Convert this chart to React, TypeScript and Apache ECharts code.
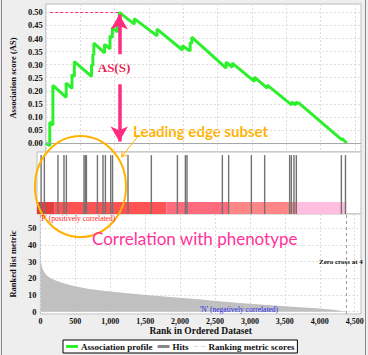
import React, { useEffect, useRef } from "react";
import * as echarts from "echarts";

// ---- data ----
const profileRanks = [0, 58, 58, 104, 104, 297, 297, 382, 382, 416, 416, 666, 666, 686, 686, 700, 700, 856, 856, 935, 935, 969, 969, 1044, 1044, 1070, 1070, 1289, 1289, 1620, 1620, 1989, 1989, 2102, 2102, 2125, 2125, 2626, 2626, 2715, 2715, 3037, 3037, 3225, 3225, 3579, 3579, 3640, 3640, 3674, 3674, 4312, 4312, 4382];
const profileScores = [0.0, -0.01, 0.08, 0.069, 0.221, 0.175, 0.23, 0.209, 0.262, 0.255, 0.312, 0.255, 0.3, 0.296, 0.34, 0.337, 0.382, 0.345, 0.378, 0.36, 0.41, 0.404, 0.442, 0.425, 0.462, 0.457, 0.5, 0.455, 0.476, 0.41, 0.436, 0.356, 0.372, 0.352, 0.385, 0.381, 0.405, 0.287, 0.31, 0.29, 0.306, 0.236, 0.252, 0.21, 0.222, 0.146, 0.157, 0.146, 0.157, 0.151, 0.156, 0.012, 0.018, 0.0];

const hitRanks = [58, 104, 297, 382, 416, 666, 686, 700, 856, 935, 969, 1044, 1070, 1289, 1620, 1989, 2102, 2125, 2626, 2715, 3037, 3225, 3579, 3603, 3640, 3674, 4312, 4370];

const metricRanks = [0, 8, 25, 50, 85, 130, 200, 300, 420, 550, 700, 900, 1100, 1360, 1600, 1900, 2300, 2600, 2900, 3250, 3600, 3950, 4200, 4382];
const metricValues = [33, 29.5, 26.5, 24, 22, 20.5, 19, 17.5, 16, 14.8, 13.6, 12.5, 11.6, 10.6, 9.7, 8.7, 7.3, 6.1, 5.1, 4.0, 3.0, 2.0, 1.1, 0];

const barStarts = [0, 250, 1833, 2729, 3674];
const barEnds = [250, 1833, 2729, 3674, 4382];
const barColors = ["#e53c3c", "#ff5252", "#ff6b7d", "#ff8686", "#ffbde0"];

const zeroCross = 4382;
const peakRank = 1070;
const peakScore = 0.5;

const serif = '"Liberation Serif", "Times New Roman", serif';

export default function App() {
  const ref = useRef<HTMLDivElement>(null);

  useEffect(() => {
    document.body.style.margin = "0";
    const chart = echarts.init(ref.current!, null, { renderer: "svg" });

    const grid = { left: 37, width: 324, show: true, backgroundColor: "#fff", borderColor: "#bdbdbd", borderWidth: 1 };
    const dashed = { show: true, lineStyle: { color: "#dcdcdc", type: [2, 2] as any, width: 1 } };
    const xBase = { type: "value", min: 0, max: 4590, interval: 500, axisLine: { show: false }, axisTick: { show: false } };

    const arrowStyle = { color: "#ff2d80", width: 3.5, type: "solid" };

    // orange pointer arrow
    const ax1 = 139, ay1 = 135, ax2 = 121.5, ay2 = 157;
    const len = Math.hypot(ax2 - ax1, ay2 - ay1);
    const ux = (ax2 - ax1) / len, uy = (ay2 - ay1) / len;
    const head = 6;
    const rot = (a: number) => [ux * Math.cos(a) - uy * Math.sin(a), ux * Math.sin(a) + uy * Math.cos(a)];
    const r1 = rot(Math.PI / 6), r2 = rot(-Math.PI / 6);

    chart.setOption({
      animation: false,
      backgroundColor: "#eeeeee",
      grid: [
        { ...grid, top: 4, height: 148 },
        { ...grid, top: 152, height: 62 },
        { ...grid, top: 214, height: 100 },
      ],
      xAxis: [
        { ...xBase, gridIndex: 0, axisLabel: { show: false }, splitLine: dashed },
        { ...xBase, gridIndex: 1, axisLabel: { show: false }, splitLine: { show: false } },
        {
          ...xBase,
          gridIndex: 2,
          splitLine: dashed,
          axisLabel: {
            margin: 3,
            fontFamily: serif,
            fontWeight: "bold",
            fontSize: 8,
            color: "#111",
            formatter: (v: number) => (v % 500 === 0 ? v.toLocaleString("en-US") : ""),
          },
          name: "Rank in Ordered Dataset",
          nameLocation: "middle",
          nameGap: 10,
          nameTextStyle: { fontFamily: serif, fontWeight: "bold", fontSize: 9.5, color: "#111", verticalAlign: "top" },
        },
      ],
      yAxis: [
        {
          type: "value",
          gridIndex: 0,
          min: -0.034,
          max: 0.532,
          splitNumber: 11,
          axisLine: { show: false },
          axisTick: { show: false },
          splitLine: dashed,
          axisLabel: {
            interval: 0,
            margin: 3,
            fontFamily: serif,
            fontWeight: "bold",
            fontSize: 8.5,
            color: "#111",
            formatter: (v: number) => (Math.abs(v / 0.05 - Math.round(v / 0.05)) < 1e-6 ? v.toFixed(2) : ""),
          },
          name: "Association score (AS)",
          nameLocation: "middle",
          nameGap: 21,
          nameTextStyle: { fontFamily: serif, fontWeight: "bold", fontSize: 8.5, color: "#111" },
        },
        { type: "value", gridIndex: 1, min: 0, max: 1, show: false },
        {
          type: "value",
          gridIndex: 2,
          min: -1.4,
          max: 58.6,
          splitNumber: 6,
          axisLine: { show: false },
          axisTick: { show: false },
          splitLine: dashed,
          axisLabel: {
            interval: 0,
            margin: 4,
            fontFamily: serif,
            fontWeight: "bold",
            fontSize: 8.5,
            color: "#111",
            formatter: (v: number) => (Math.abs(v % 10) < 1e-6 ? String(Math.round(v)) : ""),
          },
          name: "Ranked list metric",
          nameLocation: "middle",
          nameGap: 15,
          nameTextStyle: { fontFamily: serif, fontWeight: "bold", fontSize: 8.5, color: "#111" },
        },
      ],
      legend: {
        left: 63,
        top: 340,
        orient: "horizontal",
        backgroundColor: "#fff",
        borderColor: "#000",
        borderWidth: 1,
        borderRadius: 0,
        padding: [2, 3],
        itemGap: 5,
        itemWidth: 12,
        itemHeight: 3,
        textStyle: { fontFamily: serif, fontWeight: "bold", fontSize: 9, color: "#111", padding: [0, 0, 0, -2] },
        data: [
          { name: "Association profile", icon: "rect", itemStyle: { color: "#2cf02c" } },
          { name: "Hits", icon: "rect", itemStyle: { color: "#888" } },
          { name: "Ranking metric scores", icon: "path://M0,0H8V2H0Z M12,0H20V2H12Z", itemStyle: { color: "#dddddd" } },
        ],
      },
      series: [
        {
          name: "Association profile",
          type: "line",
          xAxisIndex: 0,
          yAxisIndex: 0,
          data: profileRanks.map((r, i) => [r, profileScores[i]]),
          showSymbol: false,
          lineStyle: { color: "#2cf02c", width: 3 },
          itemStyle: { color: "#2cf02c" },
          z: 5,
          markLine: {
            silent: true,
            z: 10,
            label: { show: false },
            symbol: ["none", "none"],
            data: [
              [
                { coord: [0, 0], lineStyle: { color: "#a8a8a8", width: 1, type: "solid" } },
                { coord: [4590, 0] },
              ],
              [
                { coord: [65, peakScore], lineStyle: { color: "#ff2d80", width: 1, type: [3, 2] } },
                { coord: [peakRank, peakScore] },
              ],
              [
                { coord: [peakRank, 0.34], lineStyle: arrowStyle, symbol: "none" },
                { coord: [peakRank, 0.492], symbol: "arrow", symbolSize: [13, 15] },
              ],
              [
                { coord: [peakRank, 0.225], lineStyle: arrowStyle, symbol: "none" },
                { coord: [peakRank, 0.006], symbol: "arrow", symbolSize: [13, 15] },
              ],
            ],
          },
        },
        {
          name: "Color bar",
          type: "custom",
          xAxisIndex: 1,
          yAxisIndex: 1,
          z: 1,
          data: barStarts.map((s, i) => [s, barEnds[i], i]),
          renderItem: (params: any, api: any) => {
            const p0 = api.coord([api.value(0), 0.194]);
            const p1 = api.coord([api.value(1), 0]);
            return {
              type: "rect",
              shape: { x: p0[0], y: p0[1], width: p1[0] - p0[0], height: p1[1] - p0[1] },
              style: { fill: barColors[api.value(2)] },
            };
          },
        },
        {
          name: "Hits",
          type: "custom",
          xAxisIndex: 1,
          yAxisIndex: 1,
          z: 3,
          itemStyle: { color: "#888" },
          data: hitRanks.map((r) => [r]),
          encode: { x: 0 },
          renderItem: (params: any, api: any) => {
            const p0 = api.coord([api.value(0), 0.95]);
            const p1 = api.coord([api.value(0), 0]);
            return {
              type: "line",
              shape: { x1: p0[0], y1: p0[1], x2: p1[0], y2: p1[1] },
              style: { stroke: "#727272", lineWidth: 1.4 },
            };
          },
        },
        {
          name: "Ranking metric scores",
          type: "line",
          xAxisIndex: 2,
          yAxisIndex: 2,
          data: metricRanks.map((r, i) => [r, metricValues[i]]),
          showSymbol: false,
          lineStyle: { width: 0, color: "#c0c0c0" },
          itemStyle: { color: "#c0c0c0" },
          areaStyle: { color: "#c0c0c0", opacity: 1 },
          markLine: {
            silent: true,
            symbol: ["none", "none"],
            label: { show: false },
            lineStyle: { color: "#9a9a9a", type: [3, 3], width: 1 },
            data: [{ xAxis: zeroCross }],
          },
        },
      ],
      graphic: [
        { type: "rect", silent: true, shape: { x: 1.5, y: -3, width: 364, height: 362 }, style: { fill: "none", stroke: "#8a8a8a", lineWidth: 1 } },
        { type: "text", silent: true, x: 114, y: 67, style: { text: "AS(S)", fill: "#e8234f", font: `bold 13px ${serif}`, align: "center", verticalAlign: "middle" } },
        { type: "text", silent: true, x: 133, y: 131, style: { text: "Leading edge subset", fill: "#ffb300", font: 'bold 15px Lato, "DejaVu Sans", sans-serif', align: "left", verticalAlign: "middle" } },
        { type: "ellipse", silent: true, shape: { cx: 80.5, cy: 186.5, rx: 45.5, ry: 50.5 }, style: { fill: "none", stroke: "#ffb300", lineWidth: 2 }, z: 100 },
        { type: "line", silent: true, shape: { x1: ax1, y1: ay1, x2: ax2, y2: ay2 }, style: { stroke: "#ffb300", lineWidth: 1 }, z: 100 },
        {
          type: "polyline",
          silent: true,
          shape: { points: [[ax2 - r1[0] * head, ay2 - r1[1] * head], [ax2, ay2], [ax2 - r2[0] * head, ay2 - r2[1] * head]] },
          style: { fill: "none", stroke: "#ffb300", lineWidth: 1 },
          z: 100,
        },
        { type: "text", silent: true, x: 40, y: 218, style: { text: "'P' (positively correlated)", fill: "#ff2020", font: `7.5px ${serif}`, align: "left", verticalAlign: "middle" }, z: 100 },
        { type: "text", silent: true, x: 92, y: 238, style: { text: "Correlation with phenotype", fill: "#ff3399", font: '17px Lato, "DejaVu Sans", sans-serif', align: "left", verticalAlign: "middle" }, z: 100 },
        { type: "text", silent: true, x: 319, y: 262, style: { text: "Zero cross at 4", fill: "#111", font: `bold 7px ${serif}`, align: "left", verticalAlign: "middle" }, z: 100 },
        { type: "text", silent: true, x: 200, y: 309, style: { text: "'N' (negatively correlated)", fill: "#2a2ae8", font: `7.5px ${serif}`, align: "left", verticalAlign: "middle" }, z: 100 },
      ],
    });

    return () => chart.dispose();
  }, []);

  return <div ref={ref} style={{ width: 368, height: 355 }} />;
}
